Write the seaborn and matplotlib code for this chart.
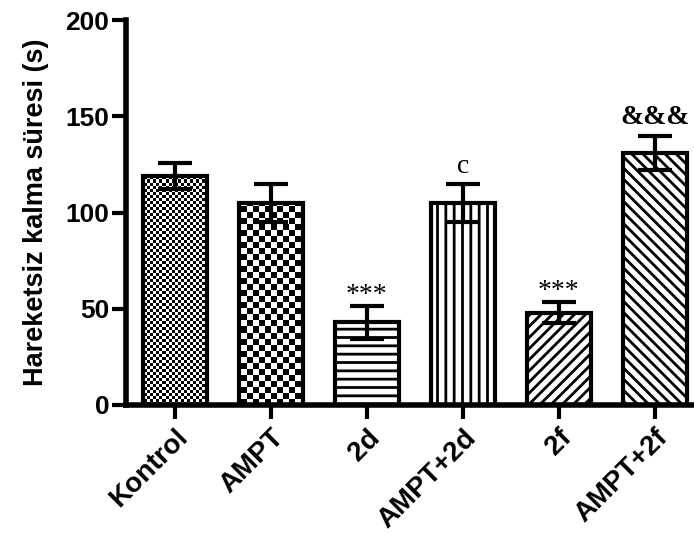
import numpy as np
import matplotlib
matplotlib.use("Agg")
import matplotlib.pyplot as plt
import seaborn as sns

# values
groups = ["Kontrol", "AMPT", "2d", "AMPT+2d", "2f", "AMPT+2f"]
means = [119, 105, 43, 105, 48, 131]
sems = [7, 10, 8.5, 10, 5.5, 9]
marks = ["", "", "***", "c", "***", "&&&"]

sns.set_style("ticks")
plt.rcParams["font.family"] = ["Liberation Sans", "DejaVu Sans"]
plt.rcParams["font.weight"] = "bold"
plt.rcParams["text.color"] = "black"
plt.rcParams["axes.labelcolor"] = "black"
plt.rcParams["hatch.linewidth"] = 2.0
plt.rcParams["hatch.color"] = "black"

fig = plt.figure(figsize=(6.94, 5.51), dpi=100)
ax = fig.add_axes([0.1816, 0.265, 0.8184, 0.6985])

sns.barplot(x=groups, y=means, ax=ax, color="white", width=0.67,
            edgecolor="black", linewidth=3, errorbar=None, zorder=2)

hatches = [None, None, "--", "||", "///", "\\\\\\"]
for patch, h in zip(ax.patches, hatches):
    patch.set_facecolor("white")
    patch.set_joinstyle("miter")
    if h:
        patch.set_hatch(h)

ax.set_xlim(-0.51, 5.41)
ax.set_ylim(0, 200)

# checkerboard fills for the first two bars (image clipped to the bar)
ax_w = int(fig.get_figwidth() * fig.dpi * 0.8184)
ax_h = int(fig.get_figheight() * fig.dpi * 0.6985)
for patch, sq in zip(ax.patches[:2], [3, 6]):
    ny, nx = ax_h // sq + 1, ax_w // sq + 1
    board = np.indices((ny, nx)).sum(axis=0) % 2
    x0, x1 = ax.get_xlim()
    im = ax.imshow(board, cmap="gray_r", interpolation="nearest",
                   extent=(x0, x0 + nx * sq * (x1 - x0) / ax_w,
                           0, ny * sq * 200 / ax_h),
                   origin="lower", aspect="auto", zorder=1.5)
    im.set_clip_path(patch)
    patch.set_facecolor("none")
ax.set_xlim(-0.51, 5.41)
ax.set_ylim(0, 200)

ax.errorbar(range(len(groups)), means, yerr=sems, fmt="none", ecolor="black",
            elinewidth=3, capsize=12.5, capthick=3, zorder=3)

for i, (m, s, t) in enumerate(zip(means, sems, marks)):
    if not t:
        continue
    off = 3 if t == "***" else 8
    ax.annotate(t, (i, m + s), xytext=(0, off), textcoords="offset points",
                ha="center", va="baseline", fontsize=20, color="black",
                family="Liberation Serif",
                fontweight="bold" if t == "&&&" else "normal")

ax.set_yticks([0, 50, 100, 150, 200])
ax.set_ylabel("Hareketsiz kalma süresi (s)", fontsize=19.5, fontweight="bold",
              labelpad=12, color="black")
ax.tick_params(axis="both", width=3, length=10, color="black",
               labelcolor="black")
ax.tick_params(axis="y", labelsize=19, pad=2)
ax.tick_params(axis="x", labelsize=20, pad=4)
plt.setp(ax.get_xticklabels(), rotation=45, ha="right",
         rotation_mode="anchor", fontweight="bold")
plt.setp(ax.get_yticklabels(), fontweight="bold")

sns.despine(ax=ax)
for sp in ["left", "bottom"]:
    ax.spines[sp].set_linewidth(4)
    ax.spines[sp].set_color("black")

fig.savefig("out.png", dpi=100)
